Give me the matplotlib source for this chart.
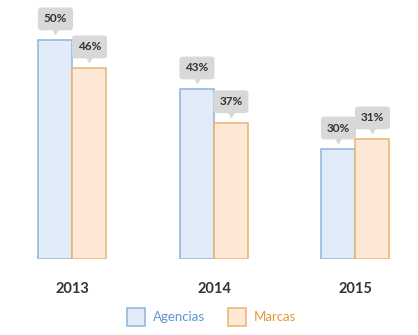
import matplotlib
matplotlib.use('Agg')
import matplotlib.pyplot as plt
from matplotlib.patches import Rectangle
from matplotlib.transforms import offset_copy
import numpy as np

plt.rcParams['font.family'] = ['Lato', 'DejaVu Sans']

years = ['2013', '2014', '2015']
series = ['Agencias', 'Marcas']
# label values shown in the callouts
agencias_pct = [50, 43, 30]
marcas_pct = [46, 37, 31]
# bar heights as drawn in the picture (not proportional to the labels)
agencias_height = [50, 38.8, 25.1]
marcas_height = [43.6, 31.1, 27.4]

fill_colors = ['#e2ecf8', '#fce8d4']
edge_colors = ['#8db3de', '#e9b36f']
text_colors = ['#5f95d2', '#e39a3b']
bubble_color = '#d8d8d8'
label_color = '#333333'

fig = plt.figure(figsize=(4.18, 3.35), dpi=100)
ax = fig.add_axes([0, 1 - 259 / 335, 1, 259 / 335])
ax.set_xlim(-0.512, 2.442)
ax.set_ylim(0, 59.1)
ax.axis('off')

x = np.arange(len(years))
w = 0.24
heights = [agencias_height, marcas_height]
labels = [agencias_pct, marcas_pct]

for i in range(len(series)):
    xs = x + (i - 0.5) * w
    ax.bar(xs, heights[i], width=w, color=fill_colors[i],
           edgecolor=edge_colors[i], linewidth=1.1)
    # callout bubbles
    for xi, h, v in zip(xs, heights[i], labels[i]):
        ax.annotate(f'{v}%', xy=(xi, h), xytext=(0, 21),
                    textcoords='offset pixels', ha='center', va='center',
                    fontsize=8.5, fontweight='bold', color=label_color,
                    bbox=dict(boxstyle='round,pad=0.5,rounding_size=0.3',
                              fc=bubble_color, ec='none'),
                    annotation_clip=False)
        ax.plot([xi], [h], marker='v', markersize=6, color=bubble_color,
                transform=offset_copy(ax.transData, fig=fig, y=10, units='dots'),
                clip_on=False)

# year labels
for xi, yr in zip(x, years):
    ax.text(xi, -6.9, yr, ha='center', va='center', fontsize=10.5,
            fontweight='bold', color=label_color, clip_on=False)

# legend
legend_items = [(127, 153), (228, 254)]
for i, (sx, tx) in enumerate(legend_items):
    fig.patches.append(Rectangle((sx / 418, 1 - 326 / 335), 18 / 418, 18 / 335,
                                 transform=fig.transFigure,
                                 facecolor=fill_colors[i],
                                 edgecolor=edge_colors[i], linewidth=1.1))
    fig.text(tx / 418, 1 - 317 / 335, series[i], ha='left', va='center',
             fontsize=9.5, color=text_colors[i])

fig.savefig('out.png', dpi=100)
